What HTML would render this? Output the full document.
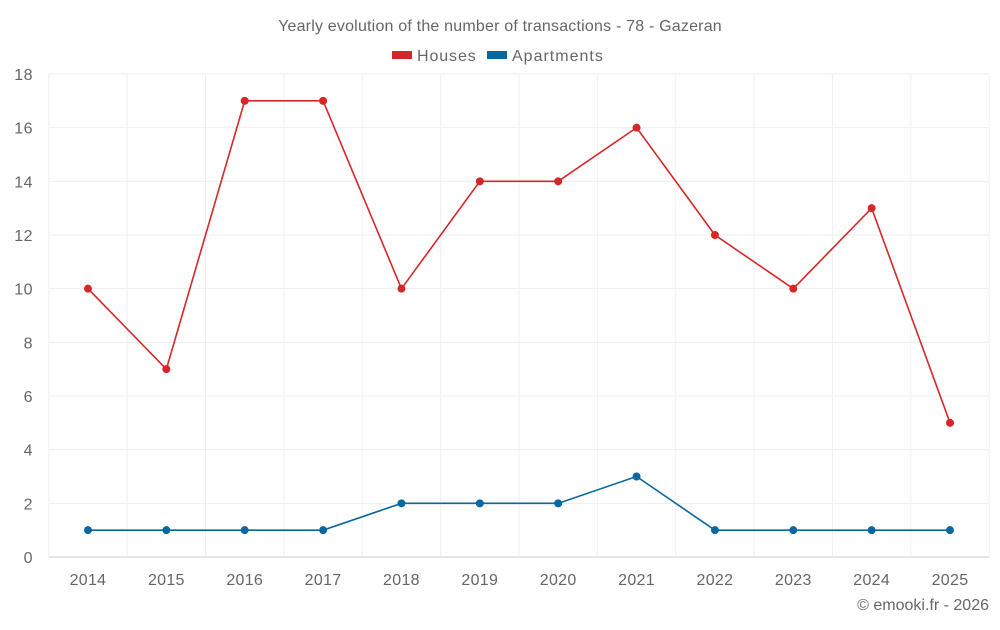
<!DOCTYPE html>
<html><head><meta charset="utf-8"><style>
body{margin:0;background:#fff;font-family:"Liberation Sans",sans-serif;}
svg text{font-family:"Liberation Sans",sans-serif;fill:#666;}
</style></head><body>
<svg id="chart" width="1000" height="625" xmlns="http://www.w3.org/2000/svg">
<text x="500" y="31" font-size="16" text-anchor="middle" letter-spacing="0.2">Yearly evolution of the number of transactions - 78 - Gazeran</text>
<g><rect x="392" y="51" width="20" height="8" fill="#d62728"/><text x="417" y="61" font-size="16" letter-spacing="0.9">Houses</text></g>
<g><rect x="487" y="51" width="20" height="8" fill="#08679e"/><text x="512" y="61" font-size="16" letter-spacing="1">Apartments</text></g>
<g id="grid"></g><g id="axes"></g><g id="series"></g>
<text x="989" y="610" font-size="16" text-anchor="end">© emooki.fr - 2026</text>
</svg>
<script>
const years=[2014,2015,2016,2017,2018,2019,2020,2021,2022,2023,2024,2025];
const houses=[10,7,17,17,10,14,14,16,12,10,13,5];
const apartments=[1,1,1,1,2,2,2,3,1,1,1,1];
const yTicks=[0,2,4,6,8,10,12,14,16,18];
const NS="http://www.w3.org/2000/svg";
const L=48.8,R=989.2,T=74,B=557,ymax=18;
const bw=(R-L)/years.length;
const x=i=>L+bw*(i+0.5);
const y=v=>B-(B-T)*v/ymax;
function mk(t,a,p){const e=document.createElementNS(NS,t);for(const k in a)e.setAttribute(k,a[k]);p.appendChild(e);return e;}
const g=document.getElementById('grid'),ax=document.getElementById('axes'),s=document.getElementById('series');
yTicks.forEach(v=>{
 const l=mk('line',{x1:L,x2:R,y1:y(v),y2:y(v),stroke:v===0?'#ccc':'#eee'},g);
 
 
 const t=mk('text',{x:33,y:y(v)+6,'font-size':16,'text-anchor':'end','letter-spacing':0.5},ax);t.textContent=v;
 
 
});
for(let i=0;i<=years.length;i++){
 const l=mk('line',{x1:L+bw*i,x2:L+bw*i,y1:T,y2:B,stroke:'#f0f0f0'},g);
 
 
}
years.forEach((yr,i)=>{
 const t=mk('text',{x:x(i),y:585,'font-size':16,'text-anchor':'middle','letter-spacing':0.3},ax);t.textContent=yr;
 
 
});
function series(d,c,n){
 const p=mk('polyline',{points:d.map((v,i)=>x(i)+','+y(v)).join(' '),fill:'none',stroke:c,'stroke-width':1.6},s);
 
 
 d.forEach((v,i)=>{const c2=mk('circle',{cx:x(i),cy:y(v),r:4,fill:c},s);
 
 });
}
series(houses,'#d62728','houses');
series(apartments,'#08679e','apartments');
</script>
</body></html>
